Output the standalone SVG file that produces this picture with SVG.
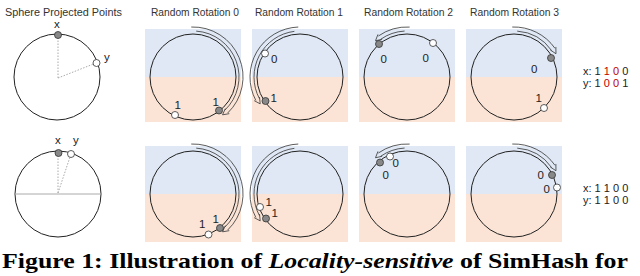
<svg xmlns="http://www.w3.org/2000/svg" xmlns:xlink="http://www.w3.org/1999/xlink" width="640" height="276" viewBox="0 0 640 276">
<style>
.title{font-family:"Liberation Sans",Arial,sans-serif;font-size:10px;fill:#333}
.lbl{font-family:"Liberation Sans",Arial,sans-serif;font-size:11.5px;fill:#222}
.code{font-family:"Liberation Sans",Arial,sans-serif;font-size:11px;fill:#222}
.red{fill:#c00000}
.blue{fill:#dfe8f4}
.orange{fill:#fbe4d6}
.ring{fill:none;stroke:#222;stroke-width:1}
.arc{fill:none;stroke:#333;stroke-width:0.8}
.dot{fill:none;stroke:#aaa;stroke-width:1;stroke-dasharray:1.5 1.5}
.pg{fill:#888;stroke:#333;stroke-width:0.8}
.pw{fill:#fff;stroke:#333;stroke-width:0.8}
.cap{font-family:"Liberation Serif","Times New Roman",serif;font-size:21px;font-weight:bold;fill:#000}
</style>
<defs>
<g id="arrowA" class="arc">
<path d="M-1.74,-49.97 A50,50 0 0 1 34.73,35.97"/>
<path d="M3.21,-45.89 A46,46 0 0 1 31.95,33.09"/>
<polyline points="36.25,36.65 29.55,37.82 32.31,31.61"/>
</g>
<g id="arrowB" class="arc">
<path d="M-1.74,-49.97 A50,50 0 0 0 -44.15,23.47"/>
<path d="M-5.61,-45.66 A46,46 0 0 0 -40.61,21.60"/>
<polyline points="-45.80,23.66 -39.79,26.84 -40.50,20.08"/>
</g>
<g id="arrowC" class="arc">
<path d="M2.62,-49.93 A50,50 0 0 0 -28.68,-40.96"/>
<path d="M-2.41,-45.94 A46,46 0 0 0 -26.38,-37.68"/>
<polyline points="-29.06,-42.59 -31.49,-36.23 -24.86,-37.75"/>
</g>
<g id="arrowD" class="arc">
<path d="M-1.74,-49.97 A50,50 0 0 1 40.96,-28.68"/>
<path d="M3.21,-45.89 A46,46 0 0 1 37.68,-26.38"/>
<polyline points="41.87,-30.07 41.98,-23.27 36.27,-26.97"/>
</g>
</defs>

<g id="titles">
<text class="title" x="5" y="16" textLength="117" lengthAdjust="spacingAndGlyphs">Sphere Projected Points</text>
<text class="title" x="151" y="16" textLength="88" lengthAdjust="spacingAndGlyphs">Random Rotation 0</text>
<text class="title" x="255" y="16" textLength="88" lengthAdjust="spacingAndGlyphs">Random Rotation 1</text>
<text class="title" x="364" y="16" textLength="89" lengthAdjust="spacingAndGlyphs">Random Rotation 2</text>
<text class="title" x="470" y="16" textLength="89" lengthAdjust="spacingAndGlyphs">Random Rotation 3</text>
</g>

<!-- Row 1 -->
<g id="sphere1">
<circle class="ring" cx="57" cy="77" r="43"/>
<line class="dot" x1="58" y1="78" x2="58" y2="35"/>
<line class="dot" x1="58" y1="78" x2="96" y2="63"/>
<circle class="pg" cx="58" cy="35" r="3.5"/>
<circle class="pw" cx="96.5" cy="63" r="3.5"/>
<text class="lbl" x="54" y="28" font-size="12">x</text>
<text class="lbl" x="104" y="61" font-size="12">y</text>
</g>

<g id="r1p0">
<rect class="blue" x="145" y="29" width="96" height="48"/>
<rect class="orange" x="145" y="77" width="96" height="45"/>
<circle class="ring" cx="193" cy="77" r="43"/>
<circle class="pw" cx="175" cy="115" r="3.5"/>
<circle class="pg" cx="219" cy="110.5" r="3.5"/>
<text class="lbl" x="174.5" y="109">1</text>
<text class="lbl" x="212.5" y="106">1</text>
</g>
<g id="r1p1">
<rect class="blue" x="252" y="29" width="96" height="48"/>
<rect class="orange" x="252" y="77" width="96" height="45"/>
<circle class="ring" cx="300" cy="77" r="43"/>
<circle class="pw" cx="265" cy="53.5" r="3.5"/>
<circle class="pg" cx="265.5" cy="101" r="3.5"/>
<text class="lbl" x="271" y="63">0</text>
<text class="lbl" x="270.5" y="102">1</text>
</g>
<g id="r1p2">
<rect class="blue" x="359" y="29" width="96" height="48"/>
<rect class="orange" x="359" y="77" width="96" height="45"/>
<circle class="ring" cx="407" cy="77" r="43"/>
<circle class="pg" cx="379" cy="44" r="3.5"/>
<circle class="pw" cx="433" cy="43" r="3.5"/>
<text class="lbl" x="380.5" y="63">0</text>
<text class="lbl" x="422.5" y="62">0</text>
</g>
<g id="r1p3">
<rect class="blue" x="466" y="29" width="96" height="48"/>
<rect class="orange" x="466" y="77" width="96" height="45"/>
<circle class="ring" cx="514" cy="77" r="43"/>
<circle class="pg" cx="551" cy="58" r="3.5"/>
<circle class="pw" cx="544" cy="108" r="3.5"/>
<text class="lbl" x="531" y="73">0</text>
<text class="lbl" x="535.5" y="102">1</text>
</g>
<g id="code1">
<text class="code" x="583" y="75">x: 1 <tspan class="red">1 0</tspan> 0</text>
<text class="code" x="583" y="87">y: 1 <tspan class="red">0 0</tspan> 1</text>
</g>

<!-- Row 2 -->
<g id="sphere2">
<circle class="ring" cx="58" cy="194" r="43"/>
<line x1="15" y1="194" x2="101" y2="194" stroke="#aaa" stroke-width="1"/>
<line class="dot" x1="58" y1="193" x2="58" y2="153"/>
<line class="dot" x1="58" y1="193" x2="71" y2="154"/>
<circle class="pg" cx="58.5" cy="153" r="3.5"/>
<circle class="pw" cx="71" cy="154" r="3.5"/>
<text class="lbl" x="55" y="144" font-size="12">x</text>
<text class="lbl" x="73" y="144" font-size="12">y</text>
</g>

<g id="r2p0">
<rect class="blue" x="145" y="146" width="96" height="48"/>
<rect class="orange" x="145" y="194" width="96" height="48"/>
<circle class="ring" cx="193" cy="194" r="43"/>
<circle class="pw" cx="208.5" cy="234.5" r="3.5"/>
<circle class="pg" cx="220" cy="228" r="3.5"/>
<text class="lbl" x="199" y="228">1</text>
<text class="lbl" x="212.5" y="223">1</text>
</g>
<g id="r2p1">
<rect class="blue" x="252" y="146" width="96" height="48"/>
<rect class="orange" x="252" y="194" width="96" height="48"/>
<circle class="ring" cx="300" cy="194" r="43"/>
<circle class="pw" cx="260" cy="207" r="3.5"/>
<circle class="pg" cx="266" cy="218.5" r="3.5"/>
<text class="lbl" x="265.5" y="206" font-size="12.5">1</text>
<text class="lbl" x="271.5" y="217">1</text>
</g>
<g id="r2p2">
<rect class="blue" x="359" y="146" width="96" height="48"/>
<rect class="orange" x="359" y="194" width="96" height="48"/>
<circle class="ring" cx="407" cy="194" r="43"/>
<circle class="pg" cx="380" cy="162.5" r="3.5"/>
<circle class="pw" cx="390" cy="156.5" r="3.5"/>
<text class="lbl" x="392.5" y="167">0</text>
<text class="lbl" x="382.5" y="179">0</text>
</g>
<g id="r2p3">
<rect class="blue" x="466" y="146" width="96" height="48"/>
<rect class="orange" x="466" y="194" width="96" height="48"/>
<circle class="ring" cx="514" cy="194" r="43"/>
<circle class="pg" cx="552" cy="175" r="3.5"/>
<circle class="pw" cx="557" cy="187.5" r="3.5"/>
<text class="lbl" x="537.5" y="179">0</text>
<text class="lbl" x="543.5" y="193">0</text>
</g>
<g id="code2">
<text class="code" x="583" y="192">x: 1 1 0 0</text>
<text class="code" x="583" y="204">y: 1 1 0 0</text>
</g>

<g id="connectors">
<use xlink:href="#arrowA" transform="translate(193,77)"/>
<use xlink:href="#arrowB" transform="translate(300,77)"/>
<use xlink:href="#arrowC" transform="translate(407,77)"/>
<use xlink:href="#arrowD" transform="translate(514,77)"/>
<use xlink:href="#arrowA" transform="translate(193,194)"/>
<use xlink:href="#arrowB" transform="translate(300,194)"/>
<use xlink:href="#arrowC" transform="translate(407,194)"/>
<use xlink:href="#arrowD" transform="translate(514,194)"/>
</g>

<g id="caption">
<text class="cap" x="2" y="268" textLength="626" lengthAdjust="spacingAndGlyphs">Figure 1: Illustration of <tspan font-style="italic">Locality-sensitive</tspan> of SimHash for</text>
</g>
</svg>
